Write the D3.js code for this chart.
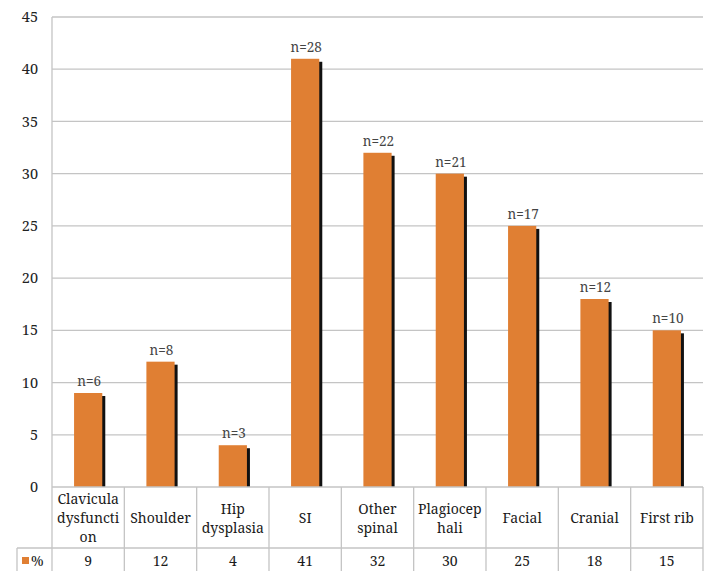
<!DOCTYPE html>
<html>
<head>
<meta charset="utf-8">
<script src="https://cdn.jsdelivr.net/npm/d3@7"></script>
<style>
  body { margin: 0; background: #fff; }
  svg { display: block; }
</style>
</head>
<body>
<svg id="chart" width="710" height="571" font-family="Noto Serif"></svg>
<script>
// chart data
const categories = ["Clavicula dysfunction", "Shoulder", "Hip dysplasia", "SI", "Other spinal",
  "Plagiocephali", "Facial", "Cranial", "First rib"];
const categoryLines = [["Clavicula", "dysfuncti", "on"], ["Shoulder"], ["Hip", "dysplasia"], ["SI"],
  ["Other", "spinal"], ["Plagiocep", "hali"], ["Facial"], ["Cranial"], ["First rib"]];
const percents = [9, 12, 4, 41, 32, 30, 25, 18, 15];
const counts = [6, 8, 3, 28, 22, 21, 17, 12, 10];
const yTicks = [0, 5, 10, 15, 20, 25, 30, 35, 40, 45];
const seriesName = "%";

const svg = d3.select("#chart");
const plotLeft = 52, plotRight = 703, plotTop = 17, plotBottom = 487;
const rowSplit = 548, tableBottom = 580;
const orange = "#e07f33", gridColor = "#c4c4c4";

const x = d3.scaleBand().domain(categories).range([plotLeft, plotRight]);
const y = d3.scaleLinear().domain([0, 45]).range([plotBottom, plotTop]);
const barW = x.bandwidth() * 0.39;

// gridlines
svg.append("g").selectAll("line")
    .data(yTicks.filter(t => t > 0))
    .join("line")
    .attr("x1", plotLeft).attr("x2", plotRight)
    .attr("y1", d => y(d)).attr("y2", d => y(d))
    .attr("stroke", gridColor).attr("stroke-width", 1.3);

// y axis labels
svg.append("g").selectAll("text")
    .data(yTicks)
    .join("text")
    .attr("x", 38).attr("y", d => y(d))
    .attr("dy", "0.35em")
    .attr("text-anchor", "end")
    .attr("font-size", 14.5)
    .attr("fill", "#222")
    .text(d => d);

// bars with dark shadow on the right
const bars = svg.append("g").selectAll("g")
    .data(categories.map((c, i) => ({ c, v: percents[i], n: counts[i] })))
    .join("g");

bars.append("rect")
    .attr("x", d => x(d.c) + (x.bandwidth() - barW) / 2 + barW - 1)
    .attr("y", d => y(d.v) + 3)
    .attr("width", 4)
    .attr("height", d => plotBottom - y(d.v) - 3)
    .attr("fill", "#111");

bars.append("rect")
    .attr("x", d => x(d.c) + (x.bandwidth() - barW) / 2)
    .attr("y", d => y(d.v))
    .attr("width", barW)
    .attr("height", d => plotBottom - y(d.v))
    .attr("fill", orange);

bars.append("text")
    .attr("x", d => x(d.c) + x.bandwidth() / 2 + 1)
    .attr("y", d => y(d.v) - 7)
    .attr("text-anchor", "middle")
    .attr("font-size", 13.5)
    .attr("fill", "#444")
    .text(d => "n=" + d.n);

// data table below the plot
const table = svg.append("g").attr("stroke", gridColor).attr("stroke-width", 1.3);
table.append("line").attr("x1", plotLeft).attr("x2", plotRight).attr("y1", plotBottom).attr("y2", plotBottom);
table.append("line").attr("x1", 17).attr("x2", plotRight).attr("y1", rowSplit).attr("y2", rowSplit);
table.append("line").attr("x1", plotLeft).attr("x2", plotLeft).attr("y1", plotTop).attr("y2", tableBottom);
table.append("line").attr("x1", 17).attr("x2", 17).attr("y1", rowSplit).attr("y2", tableBottom);
table.selectAll(".vline")
    .data(categories)
    .join("line")
    .attr("x1", d => x(d) + x.bandwidth()).attr("x2", d => x(d) + x.bandwidth())
    .attr("y1", plotBottom).attr("y2", tableBottom);

// category labels
const catLabel = svg.append("g").selectAll("text")
    .data(categories)
    .join("text")
    .attr("text-anchor", "middle")
    .attr("font-size", 14)
    .attr("fill", "#1a1a1a");

catLabel.each(function(d, i) {
    const lines = categoryLines[i];
    const lh = 19;
    const cy = (plotBottom + rowSplit) / 2 + 1;
    const y0 = cy - (lines.length - 1) * lh / 2;
    d3.select(this).selectAll("tspan")
        .data(lines)
        .join("tspan")
        .attr("x", x(d) + x.bandwidth() / 2)
        .attr("y", (l, j) => y0 + j * lh)
        .attr("dy", "0.35em")
        .text(l => l);
});

// value row
svg.append("g").selectAll("text")
    .data(percents)
    .join("text")
    .attr("x", (d, i) => x(categories[i]) + x.bandwidth() / 2)
    .attr("y", 561)
    .attr("dy", "0.35em")
    .attr("text-anchor", "middle")
    .attr("font-size", 14)
    .attr("fill", "#1a1a1a")
    .text(d => d);

// legend key in the value row
svg.append("rect").attr("x", 22).attr("y", 557).attr("width", 7).attr("height", 7).attr("fill", orange);
svg.append("text")
    .attr("x", 31).attr("y", 561).attr("dy", "0.35em")
    .attr("font-size", 14).attr("fill", "#1a1a1a")
    .text(seriesName);
</script>
</body>
</html>
